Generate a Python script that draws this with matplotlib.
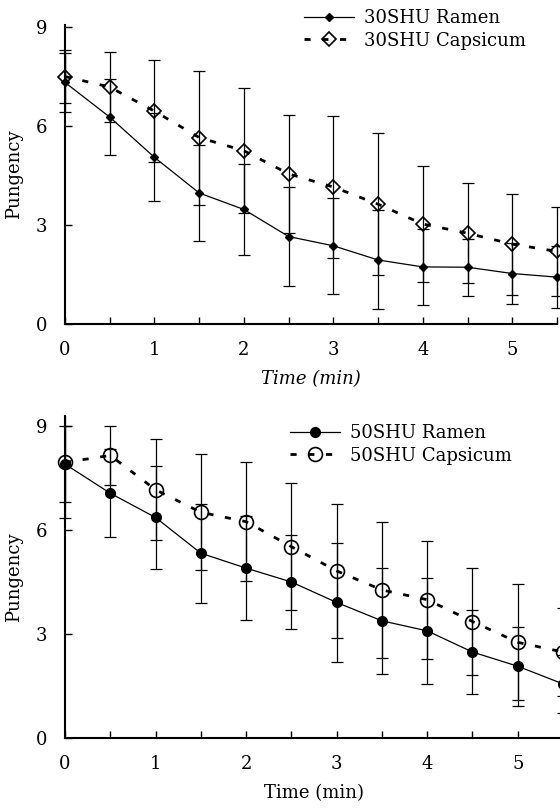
import matplotlib
matplotlib.use("Agg")
import matplotlib.pyplot as plt
from matplotlib.ticker import MultipleLocator
from matplotlib.transforms import Bbox, TransformedBbox

plt.rcParams['font.family'] = ['DejaVu Serif']
plt.rcParams['font.size'] = 13

time = [0, 0.5, 1, 1.5, 2, 2.5, 3, 3.5, 4, 4.5, 5, 5.5]

ramen30 = [7.32, 6.27, 5.05, 3.97, 3.47, 2.65, 2.37, 1.94, 1.73, 1.72, 1.53, 1.42]
ramen30_err = [0.90, 1.15, 1.33, 1.45, 1.38, 1.50, 1.45, 1.50, 1.15, 0.87, 0.93, 0.95]
caps30 = [7.50, 7.18, 6.45, 5.65, 5.25, 4.55, 4.15, 3.63, 3.03, 2.75, 2.42, 2.20]
caps30_err = [0.80, 1.07, 1.55, 2.03, 1.90, 1.78, 2.15, 2.15, 1.77, 1.52, 1.53, 1.35]

ramen50 = [7.90, 7.06, 6.36, 5.33, 4.90, 4.50, 3.91, 3.38, 3.09, 2.48, 2.07, 1.56]
ramen50_err = [1.10, 1.27, 1.48, 1.43, 1.50, 1.36, 1.71, 1.53, 1.53, 1.21, 1.14, 0.84]
caps50 = [7.95, 8.15, 7.16, 6.51, 6.24, 5.52, 4.82, 4.27, 3.99, 3.36, 2.76, 2.48]
caps50_err = [1.60, 0.86, 1.46, 1.67, 1.72, 1.83, 1.93, 1.95, 1.70, 1.53, 1.67, 1.27]

yticks = [0, 3, 6, 9]
xticks = [0, 1, 2, 3, 4, 5]

W, H = 560, 809
fig = plt.figure(figsize=(W / 100, H / 100), dpi=100)
fig.patch.set_facecolor('white')


def panel(rect, ylim, r, re, c, ce, rmarker, rms, cmarker, cms, labels, italic, legpos):
    ax = fig.add_axes(rect)
    ax.set_xlim(0, 5.5)
    ax.set_ylim(*ylim)
    for s in ['top', 'right']:
        ax.spines[s].set_visible(False)
    for s in ['left', 'bottom']:
        ax.spines[s].set_linewidth(1.5)
    clipbox = TransformedBbox(Bbox([[-0.1, -0.2], [1.2, 1.0]]), ax.transAxes)
    # error bars
    for y, e in [(r, re), (c, ce)]:
        eb = ax.errorbar(time, y, yerr=e, fmt='none', ecolor='black',
                         elinewidth=0.9, capsize=4, capthick=0.9)
        for art in eb.lines[1] + eb.lines[2]:
            art.set_clip_box(clipbox)
    l1, = ax.plot(time, r, color='black', lw=0.9, marker=rmarker, ms=rms,
                  mfc='black', mec='black', clip_on=False, label=labels[0], zorder=4)
    l2, = ax.plot(time, c, color='black', lw=2.0, linestyle=(0, (2.2, 4.2)),
                  marker=cmarker, ms=cms, mfc='none', mec='black', mew=1.2,
                  clip_on=False, label=labels[1], zorder=4)
    ax.set_xticks(xticks)
    ax.xaxis.set_minor_locator(MultipleLocator(0.5))
    ax.set_yticks(yticks)
    ax.tick_params(axis='both', which='both', direction='in', length=5, width=1.0)
    ax.tick_params(axis='x', which='major', pad=12)
    ax.tick_params(axis='y', which='major', pad=13)
    ax.set_ylabel('Pungency', labelpad=9)
    ax.set_xlabel('Time (min)', style='italic' if italic else 'normal', labelpad=8)
    ax.legend(handles=[l1, l2], loc='upper left',
              bbox_to_anchor=(legpos[0] / W, 1 - legpos[1] / H),
              bbox_transform=fig.transFigure, frameon=False,
              handlelength=2.75, handletextpad=0.55, labelspacing=0.25,
              borderpad=0, borderaxespad=0, fontsize=13)
    return ax


# top panel: y=0 at 324 px, 33 px/unit
top_h = 9.05 * 33 / H
panel([65 / W, (H - 324) / H, (557 - 65) / W, top_h], (0, 9.05),
      ramen30, ramen30_err, caps30, caps30_err, 'D', 4.5, 'D', 7.5,
      ['30SHU Ramen', '30SHU Capsicum'], True, (304, 9))

# bottom panel: y=0 at 738 px, 34.67 px/unit
bot_h = 9.3 * 34.67 / H
panel([65 / W, (H - 738) / H, (563 - 65) / W, bot_h], (0, 9.3),
      ramen50, ramen50_err, caps50, caps50_err, 'o', 7, 'o', 10,
      ['50SHU Ramen', '50SHU Capsicum'], False, (290, 424))

fig.savefig('out.png', dpi=100, facecolor='white')
